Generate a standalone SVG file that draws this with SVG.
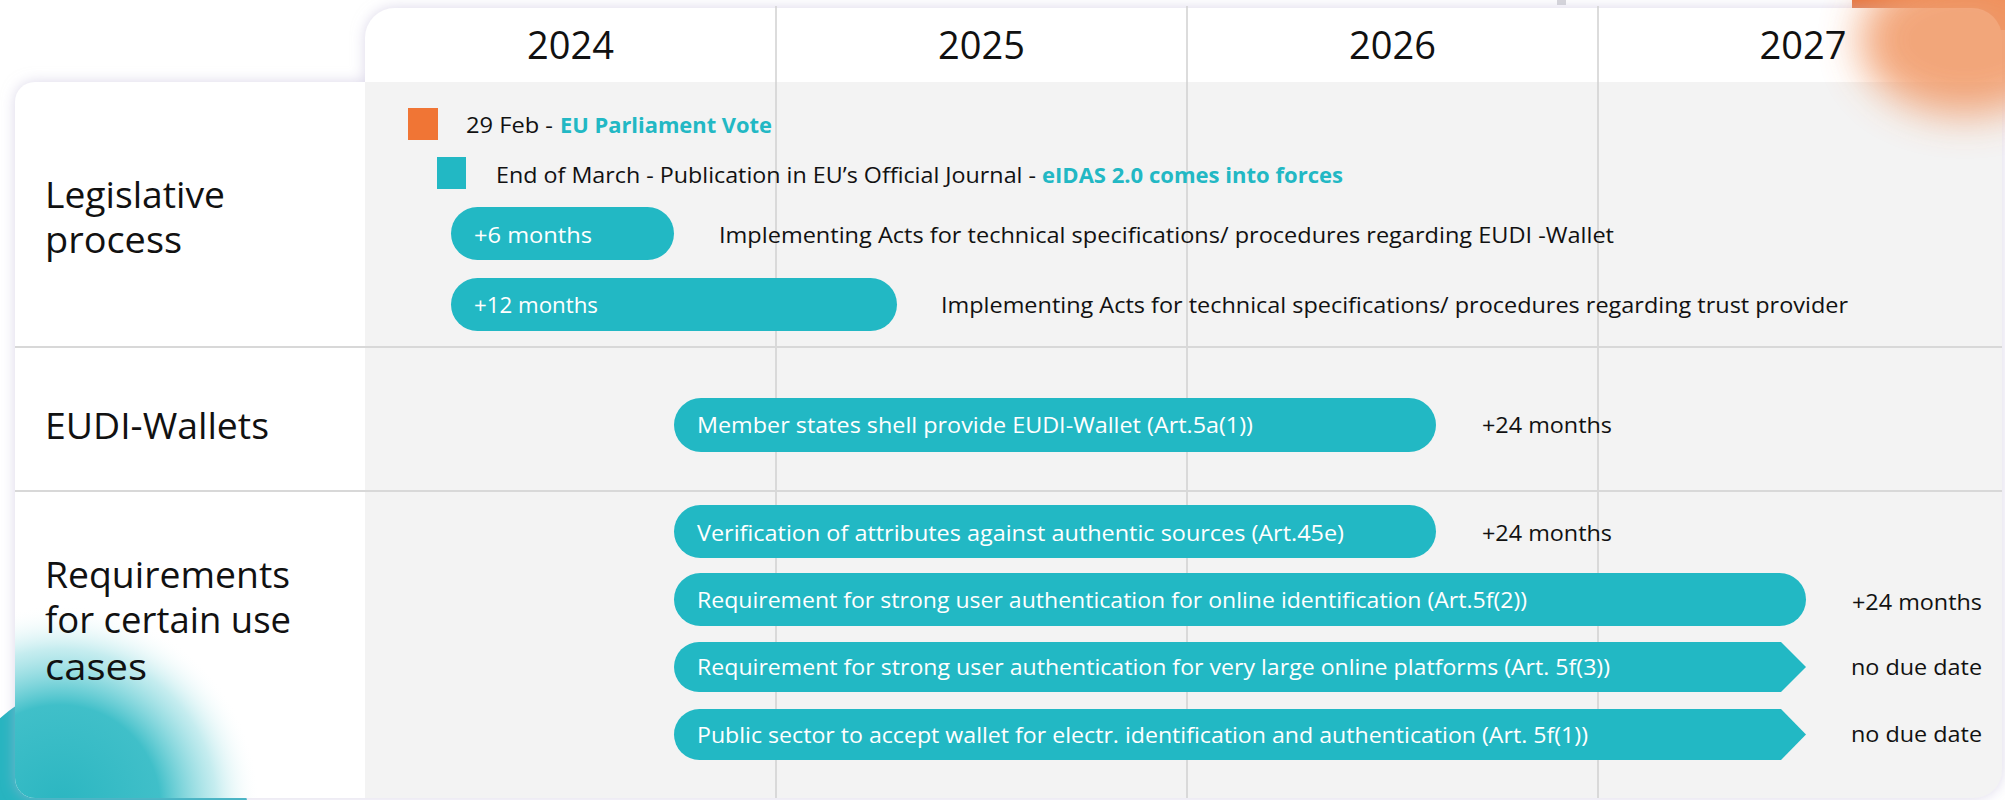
<svg xmlns="http://www.w3.org/2000/svg" width="2005" height="800" viewBox="0 0 2005 800">
<defs>
<style>
.yr{font-family:'Open Sans','Liberation Sans',sans-serif;font-size:38px;font-weight:500;fill:#111;text-anchor:middle}
.lbl{font-family:'Open Sans','Liberation Sans',sans-serif;font-size:36px;font-weight:500;fill:#111}
.t{font-family:'Open Sans','Liberation Sans',sans-serif;font-size:22px;font-weight:500;fill:#111}
.w{fill:#fff}
.b{font-weight:700;fill:#22b8c4}
.bar{fill:#22b8c4}
.grid{stroke:#d0d0d0;stroke-width:1.5}
.sep{stroke:#d8d8d8;stroke-width:2}
</style>
<filter id="sh" x="-5%" y="-5%" width="110%" height="110%">
<feDropShadow dx="0" dy="0" stdDeviation="7" flood-color="#bdb6d6" flood-opacity="0.55"/>
</filter>
<filter id="blur" x="-50%" y="-50%" width="200%" height="200%">
<feGaussianBlur stdDeviation="20"/>
</filter>
<radialGradient id="tealg" cx="60" cy="805" r="200" gradientUnits="userSpaceOnUse">
<stop offset="0" stop-color="#2bb6c1" stop-opacity="1"/>
<stop offset="0.5" stop-color="#36bcc6" stop-opacity="0.95"/>
<stop offset="0.78" stop-color="#7fd6dc" stop-opacity="0.45"/>
<stop offset="1" stop-color="#ffffff" stop-opacity="0"/>
</radialGradient>
</defs>
<rect width="2005" height="800" fill="#ffffff"/>
<g id="decor-back">
<circle cx="100" cy="830" r="150" fill="#27b4c0"/>
<rect x="1852" y="0" width="153" height="30" fill="#e8733a"/>
<rect x="1557" y="0" width="9" height="5" fill="#d6d6da"/>
</g>
<g id="panels" filter="url(#sh)">
<path d="M365,82 V38 A30,30 0 0 1 395,8 H1972 A30,30 0 0 1 2002,38 V82 Z" fill="#ffffff"/>
<path d="M365,82 H2002 V770 A28,28 0 0 1 1974,798 H365 Z" fill="#f3f3f3"/>
<path d="M365,82 V798 H35 A20,20 0 0 1 15,778 V102 A20,20 0 0 1 35,82 Z" fill="#ffffff"/>
</g>
<g id="grid">
<line class="grid" x1="776" y1="6" x2="776" y2="798"/>
<line class="grid" x1="1187" y1="6" x2="1187" y2="798"/>
<line class="grid" x1="1598" y1="6" x2="1598" y2="798"/>
<line class="sep" x1="15" y1="347" x2="2002" y2="347"/>
<line class="sep" x1="15" y1="491" x2="2002" y2="491"/>
</g>
<g id="decor-front">
<ellipse cx="1965" cy="40" rx="105" ry="75" fill="#f19a68" opacity="0.88" filter="url(#blur)"/>
<path d="M15,590 H270 V798 H35 A20,20 0 0 1 15,778 Z" fill="url(#tealg)"/>
</g>
<g id="years">
<text class="yr" x="570.5" y="59">2024</text>
<text class="yr" x="981.5" y="59">2025</text>
<text class="yr" x="1392.5" y="59">2026</text>
<text class="yr" x="1803" y="59">2027</text>
</g>
<g id="row-legislative">
<text class="lbl" x="45" y="208" textLength="180" lengthAdjust="spacingAndGlyphs">Legislative</text>
<text class="lbl" x="45" y="253" textLength="137" lengthAdjust="spacingAndGlyphs">process</text>
</g>
<g id="row-wallets">
<text class="lbl" x="45" y="439" textLength="224" lengthAdjust="spacingAndGlyphs">EUDI-Wallets</text>
</g>
<g id="row-requirements">
<text class="lbl" x="45" y="588" textLength="245" lengthAdjust="spacingAndGlyphs">Requirements</text>
<text class="lbl" x="45" y="633" textLength="246" lengthAdjust="spacingAndGlyphs">for certain use</text>
<text class="lbl" x="45" y="680" textLength="102" lengthAdjust="spacingAndGlyphs">cases</text>
</g>
<g id="ev-vote">
<rect x="408" y="108" width="30" height="32" fill="#f07535"/>
<text class="t" x="466" y="133" textLength="87" lengthAdjust="spacingAndGlyphs">29 Feb -</text>
<text class="t b" x="560" y="133" textLength="212" lengthAdjust="spacingAndGlyphs">EU Parliament Vote</text>
</g>
<g id="ev-publication">
<rect x="437" y="157" width="29" height="32" fill="#22b8c4"/>
<text class="t" x="496" y="183" textLength="540" lengthAdjust="spacingAndGlyphs">End of March - Publication in EU’s Official Journal -</text>
<text class="t b" x="1042" y="183" textLength="301" lengthAdjust="spacingAndGlyphs">eIDAS 2.0 comes into forces</text>
</g>
<g id="ev-6m">
<rect class="bar" x="451" y="207" width="223" height="53" rx="26.5"/>
<text class="t w" x="474" y="243" textLength="118" lengthAdjust="spacingAndGlyphs">+6 months</text>
<text class="t" x="719" y="243" textLength="895" lengthAdjust="spacingAndGlyphs">Implementing Acts for technical specifications/ procedures regarding EUDI -Wallet</text>
</g>
<g id="ev-12m">
<rect class="bar" x="451" y="278" width="446" height="53" rx="26.5"/>
<text class="t w" x="474" y="313" textLength="124" lengthAdjust="spacingAndGlyphs">+12 months</text>
<text class="t" x="941" y="313" textLength="907" lengthAdjust="spacingAndGlyphs">Implementing Acts for technical specifications/ procedures regarding trust provider</text>
</g>
<g id="ev-member-states">
<rect class="bar" x="674" y="398" width="762" height="54" rx="27"/>
<text class="t w" x="697" y="433" textLength="556" lengthAdjust="spacingAndGlyphs">Member states shell provide EUDI-Wallet (Art.5a(1))</text>
<text class="t" x="1482" y="433" textLength="130" lengthAdjust="spacingAndGlyphs">+24 months</text>
</g>
<g id="ev-verification">
<rect class="bar" x="674" y="505" width="762" height="53" rx="26.5"/>
<text class="t w" x="697" y="541" textLength="647" lengthAdjust="spacingAndGlyphs">Verification of attributes against authentic sources (Art.45e)</text>
<text class="t" x="1482" y="541" textLength="130" lengthAdjust="spacingAndGlyphs">+24 months</text>
</g>
<g id="ev-sua-online">
<rect class="bar" x="674" y="573" width="1132" height="53" rx="26.5"/>
<text class="t w" x="697" y="608" textLength="830" lengthAdjust="spacingAndGlyphs">Requirement for strong user authentication for online identification (Art.5f(2))</text>
<text class="t" x="1852" y="610" textLength="130" lengthAdjust="spacingAndGlyphs">+24 months</text>
</g>
<g id="ev-sua-platforms">
<path class="bar" d="M699,642 H1781 L1806,667 L1781,692 H699 A25,25 0 0 1 699,642 Z"/>
<text class="t w" x="697" y="675" textLength="913" lengthAdjust="spacingAndGlyphs">Requirement for strong user authentication for very large online platforms (Art. 5f(3))</text>
<text class="t" x="1851" y="675" textLength="131" lengthAdjust="spacingAndGlyphs">no due date</text>
</g>
<g id="ev-public-sector">
<path class="bar" d="M699.5,709 H1781 L1806,734.5 L1781,760 H699.5 A25.5,25.5 0 0 1 699.5,709 Z"/>
<text class="t w" x="697" y="743" textLength="891" lengthAdjust="spacingAndGlyphs">Public sector to accept wallet for electr. identification and authentication (Art. 5f(1))</text>
<text class="t" x="1851" y="742" textLength="131" lengthAdjust="spacingAndGlyphs">no due date</text>
</g>
</svg>
